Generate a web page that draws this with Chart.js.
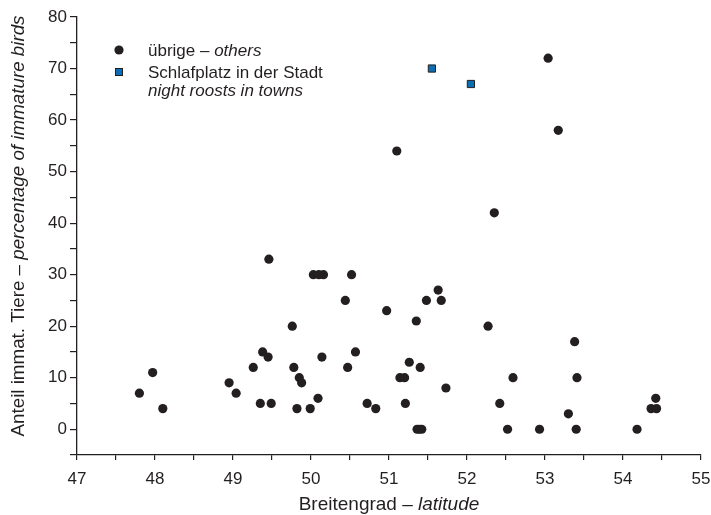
<!DOCTYPE html>
<html>
<head>
<meta charset="utf-8">
<script src="https://cdn.jsdelivr.net/npm/chart.js@4"></script>
<style>
  html, body { margin: 0; padding: 0; background: #fff; }
  #wrap { width: 711px; height: 515px; }
</style>
</head>
<body>
<div id="wrap"><canvas id="myChart" width="711" height="515"></canvas></div>
<script>
// Breitengrad vs. Anteil immaturer Tiere
const othersLat = [47.8, 47.97, 48.1, 48.95, 49.04, 49.26, 49.38, 49.45, 49.46, 49.35, 49.49,
    49.76, 49.78, 49.85, 49.88, 49.82, 49.99, 50.09, 50.03, 50.10, 50.16, 50.14, 50.44, 50.47,
    50.52, 50.57, 50.72, 50.83, 50.97, 51.10, 51.14, 51.20, 51.21, 51.26, 51.35, 51.40, 51.36,
    51.39, 51.42, 51.48, 51.63, 51.67, 51.73, 52.27, 52.35, 52.42, 52.52, 52.59, 52.93, 53.04,
    53.17, 53.30, 53.38, 53.40, 53.41, 54.18, 54.36, 54.43, 54.42];
const othersPct = [7, 11, 4, 9, 7, 12, 15, 14, 33, 5, 5,
    20, 12, 10, 9, 4, 4, 6, 30, 30, 30, 14, 25, 12,
    30, 15, 5, 4, 23, 54, 10, 10, 5, 13, 21, 12, 0,
    0, 0, 25, 27, 25, 8, 20, 42, 5, 0, 10, 0, 72,
    58, 3, 17, 0, 10, 0, 4, 4, 6];

const roostLat = [51.55, 52.05];
const roostPct = [70, 67];

const xTickLabels = [47, 48, 49, 50, 51, 52, 53, 54, 55];
const yTickLabels = [0, 10, 20, 30, 40, 50, 60, 70, 80];

const legendItems = [
    { de: 'übrige – ', en: 'others', style: 'circle' },
    { de: 'Schlafplatz in der Stadt', en: 'night roosts in towns', style: 'rect' }
];

const INK = '#231f20';
const BLUE = '#0b6db3';
const FONT = '"Liberation Sans", Arial, Helvetica, sans-serif';

function toPoints(xs, ys) {
    return xs.map((x, i) => ({ x, y: ys[i] }));
}

// draws text pieces one after another (upright + italic)
function drawMixed(ctx, parts, x, y, size) {
    let total = 0;
    parts.forEach(p => {
        ctx.font = (p.italic ? 'italic ' : '') + size + 'px ' + FONT;
        p.w = ctx.measureText(p.text).width;
        total += p.w;
    });
    let cx = x - total / 2;
    parts.forEach(p => {
        ctx.font = (p.italic ? 'italic ' : '') + size + 'px ' + FONT;
        ctx.fillText(p.text, cx, y);
        cx += p.w;
    });
}

const extrasPlugin = {
    id: 'extras',
    afterDraw(chart) {
        const ctx = chart.ctx;
        const area = chart.chartArea;
        ctx.save();
        ctx.fillStyle = INK;
        ctx.textAlign = 'left';
        ctx.textBaseline = 'alphabetic';

        // x title
        drawMixed(ctx, [
            { text: 'Breitengrad – ' },
            { text: 'latitude', italic: true }
        ], (area.left + area.right) / 2, 510, 19);

        // y title
        ctx.save();
        ctx.translate(24, 226);
        ctx.rotate(-Math.PI / 2);
        drawMixed(ctx, [
            { text: 'Anteil immat. Tiere – ' },
            { text: 'percentage of immature birds', italic: true }
        ], 0, 0, 18.8);
        ctx.restore();

        // legend
        const lx = 119, tx = 148;
        const size = 17;
        // row 1
        ctx.beginPath();
        ctx.arc(lx, 50, 4.6, 0, Math.PI * 2);
        ctx.fill();
        ctx.font = size + 'px ' + FONT;
        ctx.textBaseline = 'middle';
        ctx.fillText(legendItems[0].de, tx, 51);
        const w0 = ctx.measureText(legendItems[0].de).width;
        ctx.font = 'italic ' + size + 'px ' + FONT;
        ctx.fillText(legendItems[0].en, tx + w0, 51);
        // row 2
        ctx.fillStyle = BLUE;
        ctx.strokeStyle = INK;
        ctx.lineWidth = 1;
        ctx.fillRect(lx - 3.5, 72 - 3.5, 7, 7);
        ctx.strokeRect(lx - 3.5, 72 - 3.5, 7, 7);
        ctx.fillStyle = INK;
        ctx.font = size + 'px ' + FONT;
        ctx.fillText(legendItems[1].de, tx, 73);
        ctx.font = 'italic ' + size + 'px ' + FONT;
        ctx.fillText(legendItems[1].en, tx, 91);
        ctx.restore();
    }
};

const ctx = document.getElementById('myChart').getContext('2d');
new Chart(ctx, {
    type: 'scatter',
    data: {
        datasets: [{
            label: 'übrige – others',
            data: toPoints(othersLat, othersPct),
            backgroundColor: INK,
            borderWidth: 0,
            pointStyle: 'circle',
            pointRadius: 4.6,
            pointHoverRadius: 4.6
        }, {
            label: 'Schlafplatz in der Stadt / night roosts in towns',
            data: toPoints(roostLat, roostPct),
            backgroundColor: BLUE,
            borderColor: INK,
            borderWidth: 1,
            pointStyle: 'rect',
            pointRadius: 5.1,
            pointHoverRadius: 5.1
        }]
    },
    options: {
        responsive: false,
        animation: false,
        events: [],
        clip: false,
        layout: { padding: { top: 17, right: 10, left: 0, bottom: 0 } },
        plugins: {
            legend: { display: false },
            tooltip: { enabled: false }
        },
        scales: {
            x: {
                type: 'linear',
                min: 47,
                max: 55,
                afterFit(scale) {
                    scale.height = 60;
                    scale.paddingLeft = 0;
                    scale.paddingRight = 0;
                },
                afterBuildTicks(scale) {
                    const t = [];
                    for (let v = 47; v <= 55.001; v += 0.5) t.push({ value: v });
                    scale.ticks = t;
                },
                ticks: {
                    color: INK,
                    font: { family: FONT, size: 17 },
                    padding: 9,
                    maxRotation: 0,
                    autoSkip: false,
                    callback: v => xTickLabels.includes(v) ? String(v) : ''
                },
                grid: {
                    drawOnChartArea: false,
                    drawTicks: true,
                    tickLength: 5,
                    color: INK,
                    lineWidth: 1.2
                },
                border: { display: true, color: INK, width: 1.3 }
            },
            y: {
                type: 'linear',
                min: -5,
                max: 80,
                afterFit(scale) {
                    scale.width = 77;
                    scale.paddingTop = 0;
                    scale.paddingBottom = 0;
                },
                afterBuildTicks(scale) {
                    const t = [];
                    for (let v = -5; v <= 80; v += 5) t.push({ value: v });
                    scale.ticks = t;
                },
                ticks: {
                    color: INK,
                    font: { family: FONT, size: 17 },
                    padding: 3,
                    autoSkip: false,
                    callback: v => yTickLabels.includes(v) ? String(v) : ''
                },
                grid: {
                    drawOnChartArea: false,
                    drawTicks: true,
                    tickLength: 7,
                    color: INK,
                    lineWidth: 1.2
                },
                border: { display: true, color: INK, width: 1.3 }
            }
        }
    },
    plugins: [extrasPlugin]
});
</script>
</body>
</html>
